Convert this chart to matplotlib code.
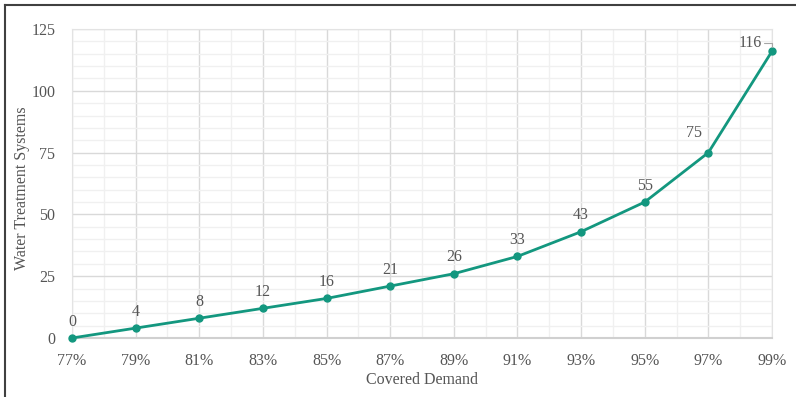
import numpy as np
import matplotlib.pyplot as plt
from matplotlib.lines import Line2D

plt.rcParams['font.family'] = ['Liberation Serif', 'DejaVu Serif']

# data
demand = [77, 79, 81, 83, 85, 87, 89, 91, 93, 95, 97, 99]
systems = [0, 4, 8, 12, 16, 21, 26, 33, 43, 55, 75, 116]

teal = '#13977f'
txt = '#555555'
fs = 11.5

fig = plt.figure(figsize=(7.96, 3.97), dpi=100)
ax = fig.add_axes([72/796, 59/397, 700/796, 309/397])

ax.plot(demand, systems, color=teal, lw=2, marker='o', ms=5, zorder=3, clip_on=False)

# data labels
for x, y in zip(demand, systems):
    if y == 75:
        ax.annotate(str(y), (x, y), xytext=(-10, 8), textcoords='offset points',
                    ha='center', va='bottom', color=txt, fontsize=fs)
    elif y == 116:
        ax.annotate(str(y), (x, y), xytext=(-16, 0), textcoords='offset points',
                    ha='center', va='bottom', color=txt, fontsize=fs,
                    arrowprops=dict(arrowstyle='-', color='#a6a6a6', lw=0.8,
                                    connectionstyle='angle,angleA=0,angleB=90,rad=0',
                                    shrinkA=0, shrinkB=3))
    else:
        ax.annotate(str(y), (x, y), xytext=(0, 6), textcoords='offset points',
                    ha='center', va='bottom', color=txt, fontsize=fs)

ax.set_xlim(77, 99)
ax.set_ylim(0, 125)
ax.set_xticks(demand)
ax.set_xticklabels([f'{d}%' for d in demand])
ax.set_yticks(np.arange(0, 126, 25))
ax.set_xticks(np.arange(78, 99, 2), minor=True)
ax.set_yticks(np.arange(5, 125, 5), minor=True)

ax.grid(which='major', color='#d9d9d9', lw=1)
ax.grid(which='minor', color='#f0f0f0', lw=1)
ax.set_axisbelow(True)
ax.tick_params(which='both', length=0, colors=txt, labelsize=fs)
ax.tick_params(axis='x', pad=11)
ax.tick_params(axis='y', pad=12)

for side in ['top', 'right', 'left']:
    ax.spines[side].set_color('#e3e3e3')
ax.spines['bottom'].set_color('#d0d0d0')
ax.spines['bottom'].set_linewidth(1.5)

ax.set_xlabel('Covered Demand', color=txt, fontsize=fs, va='center')
ax.set_ylabel('Water Treatment Systems', color=txt, fontsize=fs, va='center')
ax.xaxis.set_label_coords(0.5, -42/309)
ax.yaxis.set_label_coords(-50/700, 0.485)

# outer frame (left and top edges visible)
fig.add_artist(Line2D([4.5/796, 4.5/796], [0, 1 - 5/397], color='#404040', lw=1.5))
fig.add_artist(Line2D([4.5/796, 1], [1 - 5/397, 1 - 5/397], color='#404040', lw=1.5))

fig.savefig('out.png', dpi=100)
